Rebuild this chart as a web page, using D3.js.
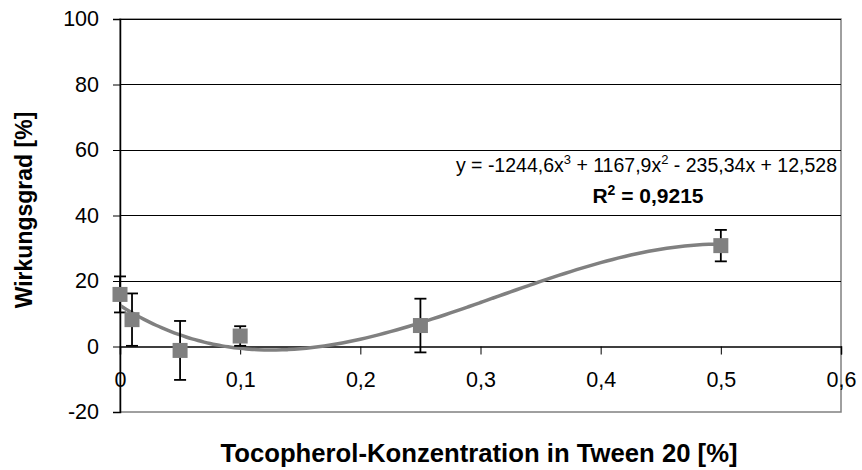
<!DOCTYPE html>
<html><head><meta charset="utf-8">
<script src="https://cdn.jsdelivr.net/npm/d3@7"></script>
<style>body{margin:0;background:#fff}svg{display:block}text{font-family:"Liberation Sans",Arial,sans-serif}</style>
</head><body>
<svg id="c" width="862" height="470"></svg>
<script>
const xValues = [0, 0.01, 0.05, 0.1, 0.25, 0.5];
const yValues = [15.9, 8.2, -1.2, 3.2, 6.4, 30.8];
const yErrors = [5.5, 8.0, 9.0, 3.0, 8.2, 4.8];
const trendCoefs = [12.528, -235.34, 1167.9, -1244.6]; // c0 + c1 x + c2 x^2 + c3 x^3
const xTicks = [0, 0.1, 0.2, 0.3, 0.4, 0.5, 0.6];
const yTicks = [-20, 0, 20, 40, 60, 80, 100];

const svg = d3.select("#c");
const L = 120, R = 841, T = 19, B = 412;
const x = d3.scaleLinear().domain([0, 0.6]).range([L, R]);
const y = d3.scaleLinear().domain([-20, 100]).range([B, T]);
const fmt = d => String(d).replace(".", ",");
const FF = "Liberation Sans, Arial, sans-serif";

// frame
svg.append("rect").attr("x", L).attr("y", T).attr("width", R - L).attr("height", B - T)
  .attr("fill", "none").attr("stroke", "#808080").attr("stroke-width", 1.5);

// gridlines
svg.append("g").selectAll("line").data(yTicks.filter(d => d > 0)).join("line")
  .attr("x1", L).attr("x2", R).attr("y1", d => y(d)).attr("y2", d => y(d))
  .attr("stroke", "#000").attr("stroke-width", 1).attr("shape-rendering", "crispEdges");

// y axis
const yAxis = svg.append("g").attr("transform", `translate(${L},0)`)
  .call(d3.axisLeft(y).tickValues(yTicks).tickSize(7).tickPadding(14).tickFormat(fmt));
yAxis.select(".domain").attr("stroke", "#000").attr("stroke-width", 1.5);
yAxis.selectAll(".tick line").attr("stroke", "#000").attr("stroke-width", 1);
yAxis.selectAll("text").attr("font-size", 21.5).attr("fill", "#000").attr("font-family", FF);

// x axis at y=0
const xAxis = svg.append("g").attr("transform", `translate(0,${y(0)})`)
  .call(d3.axisBottom(x).tickValues(xTicks).tickSize(8).tickPadding(17).tickFormat(fmt));
xAxis.select(".domain").attr("stroke", "#000").attr("stroke-width", 1.5);
xAxis.selectAll(".tick line").attr("stroke", "#000").attr("stroke-width", 1);
xAxis.selectAll("text").attr("font-size", 21.5).attr("fill", "#000").attr("font-family", FF);

// trend line
const poly = v => trendCoefs.reduce((s, c, i) => s + c * Math.pow(v, i), 0);
const xs = d3.range(0, 0.5001, 0.005);
svg.append("path").datum(xs)
  .attr("d", d3.line().x(d => x(d)).y(d => y(poly(d))).curve(d3.curveMonotoneX))
  .attr("fill", "none").attr("stroke", "#808080").attr("stroke-width", 3.5);

// error bars
const pts = xValues.map((v, i) => ({x: v, y: yValues[i], e: yErrors[i]}));
const eb = svg.append("g").attr("stroke", "#000").attr("stroke-width", 1.8);
eb.selectAll(".v").data(pts).join("line").attr("x1", d => x(d.x)).attr("x2", d => x(d.x))
  .attr("y1", d => y(d.y + d.e)).attr("y2", d => y(d.y - d.e));
eb.selectAll(".t").data(pts).join("line").attr("x1", d => x(d.x) - 6).attr("x2", d => x(d.x) + 6)
  .attr("y1", d => y(d.y + d.e)).attr("y2", d => y(d.y + d.e));
eb.selectAll(".b").data(pts).join("line").attr("x1", d => x(d.x) - 6).attr("x2", d => x(d.x) + 6)
  .attr("y1", d => y(d.y - d.e)).attr("y2", d => y(d.y - d.e));

// markers
svg.append("g").selectAll("rect").data(pts).join("rect")
  .attr("x", d => x(d.x) - 7.5).attr("y", d => y(d.y) - 7.5).attr("width", 15).attr("height", 15)
  .attr("fill", "#808080");

// equation
const eq = svg.append("text").attr("x", 837).attr("y", 172).attr("text-anchor", "end").attr("font-size", 19.5).attr("fill", "#000");
eq.append("tspan").text("y = -1244,6x");
eq.append("tspan").attr("dy", -8).attr("font-size", 13).text("3");
eq.append("tspan").attr("dy", 8).text(" + 1167,9x");
eq.append("tspan").attr("dy", -8).attr("font-size", 13).text("2");
eq.append("tspan").attr("dy", 8).text(" - 235,34x + 12,528");

const r2 = svg.append("text").attr("x", 648).attr("y", 203).attr("text-anchor", "middle").attr("font-size", 21).attr("font-weight", "bold").attr("fill", "#000");
r2.append("tspan").text("R");
r2.append("tspan").attr("dy", -8).attr("font-size", 14).text("2");
r2.append("tspan").attr("dy", 8).text(" = 0,9215");

// axis titles
svg.append("text").attr("x", 479).attr("y", 462).attr("text-anchor", "middle")
  .attr("font-size", 25.7).attr("font-weight", "bold").text("Tocopherol-Konzentration in Tween 20 [%]");
svg.append("text").attr("transform", "translate(32,210) rotate(-90)").attr("text-anchor", "middle")
  .attr("font-size", 23).attr("font-weight", "bold").text("Wirkungsgrad [%]");
</script>
</body></html>
